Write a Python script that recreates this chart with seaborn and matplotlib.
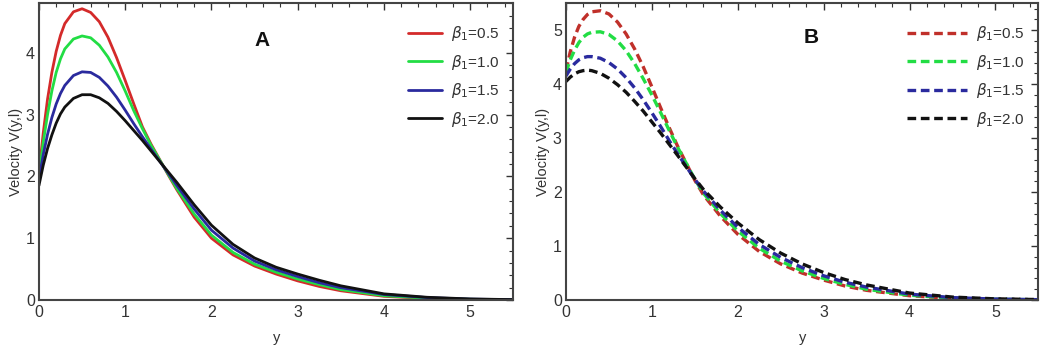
import numpy as np
import pandas as pd
import seaborn as sns
import matplotlib.pyplot as plt
from matplotlib.ticker import MultipleLocator

# distance y, shared by all curves
y_vals = [0, 0.05, 0.1, 0.15, 0.2, 0.25, 0.3, 0.4, 0.5, 0.6, 0.7, 0.8, 0.9, 1.0,
          1.1, 1.2, 1.3, 1.5, 1.6, 1.8, 2.0, 2.25, 2.5, 2.75, 3.0, 3.25, 3.5,
          4.0, 4.5, 5.0, 5.5]

beta_labels = [r"$\beta_1$=0.5", r"$\beta_1$=1.0", r"$\beta_1$=1.5", r"$\beta_1$=2.0"]

# panel A (solid)
vel_a_05 = [2.05, 2.7, 3.25, 3.68, 4.02, 4.28, 4.47, 4.66, 4.71, 4.65, 4.5, 4.25,
            3.92, 3.55, 3.17, 2.8, 2.52, 2.02, 1.78, 1.34, 1.0, 0.73, 0.55, 0.42,
            0.31, 0.22, 0.15, 0.06, 0.025, 0.01, 0.004]
vel_a_10 = [2.0, 2.55, 3.0, 3.38, 3.68, 3.9, 4.06, 4.22, 4.27, 4.24, 4.12, 3.93,
            3.68, 3.38, 3.06, 2.77, 2.5, 2.03, 1.8, 1.39, 1.05, 0.77, 0.58, 0.45,
            0.34, 0.25, 0.17, 0.07, 0.03, 0.012, 0.005]
vel_a_15 = [1.95, 2.35, 2.68, 2.95, 3.17, 3.34, 3.47, 3.63, 3.69, 3.68, 3.6, 3.46,
            3.28, 3.07, 2.85, 2.64, 2.44, 2.05, 1.85, 1.47, 1.13, 0.84, 0.63, 0.49,
            0.38, 0.28, 0.2, 0.09, 0.04, 0.015, 0.006]
vel_a_20 = [1.85, 2.18, 2.45, 2.67, 2.86, 3.01, 3.12, 3.26, 3.32, 3.32, 3.27, 3.18,
            3.05, 2.9, 2.74, 2.58, 2.41, 2.07, 1.9, 1.54, 1.21, 0.9, 0.68, 0.53,
            0.42, 0.32, 0.23, 0.1, 0.045, 0.018, 0.007]

# panel B (dashed)
vel_b_05 = [4.25, 4.6, 4.87, 5.07, 5.2, 5.29, 5.34, 5.36, 5.3, 5.15, 4.93, 4.65,
            4.32, 3.95, 3.57, 3.2, 2.85, 2.22, 1.95, 1.55, 1.22, 0.9, 0.67, 0.5,
            0.37, 0.26, 0.18, 0.08, 0.03, 0.012, 0.005]
vel_b_10 = [4.22, 4.45, 4.63, 4.77, 4.87, 4.93, 4.96, 4.97, 4.92, 4.8, 4.62, 4.38,
            4.1, 3.8, 3.48, 3.15, 2.83, 2.24, 1.98, 1.6, 1.28, 0.96, 0.72, 0.54,
            0.4, 0.29, 0.2, 0.09, 0.035, 0.014, 0.006]
vel_b_15 = [4.15, 4.28, 4.38, 4.45, 4.49, 4.51, 4.51, 4.48, 4.4, 4.28, 4.12, 3.93,
            3.71, 3.47, 3.22, 2.96, 2.71, 2.24, 2.02, 1.66, 1.35, 1.03, 0.79, 0.6,
            0.45, 0.33, 0.24, 0.11, 0.045, 0.018, 0.007]
vel_b_20 = [4.05, 4.13, 4.19, 4.23, 4.25, 4.26, 4.25, 4.2, 4.11, 3.99, 3.85, 3.68,
            3.5, 3.3, 3.1, 2.89, 2.68, 2.25, 2.05, 1.72, 1.43, 1.12, 0.87, 0.67,
            0.51, 0.38, 0.28, 0.13, 0.055, 0.022, 0.009]

colors_a = ["#d42a2a", "#22dd44", "#2a2a9e", "#111111"]
colors_b = ["#c0302a", "#22dd44", "#2a2a9e", "#111111"]


def long_frame(series):
    rows = []
    for label, vals in zip(beta_labels, series):
        for y, v in zip(y_vals, vals):
            rows.append({"y": y, "V": v, "beta": label})
    return pd.DataFrame(rows)


sns.set_theme(style="white")
plt.rcParams["font.family"] = ["Liberation Sans", "DejaVu Sans"]
plt.rcParams["mathtext.fontset"] = "dejavusans"

fig = plt.figure(figsize=(10.52, 3.53), dpi=100)
ax_a = fig.add_axes([0.037, 0.150, 0.451, 0.841])
ax_b = fig.add_axes([0.538, 0.150, 0.449, 0.841])

panels = [
    (ax_a, long_frame([vel_a_05, vel_a_10, vel_a_15, vel_a_20]), colors_a, "-", 4.8, "A", 0.47, 0.875, 2.2),
    (ax_b, long_frame([vel_b_05, vel_b_10, vel_b_15, vel_b_20]), colors_b, "--", 5.5, "B", 0.52, 0.885, 3.9),
]

for ax, df, cols, ls, ytop, letter, lx, ly, hlen in panels:
    sns.lineplot(data=df, x="y", y="V", hue="beta", palette=cols, ax=ax,
                 linewidth=2.0 if ls == "-" else 2.4, linestyle=ls, legend=False,
                 sort=False)
    lines = ax.get_lines()
    if ls == "--":
        for ln in lines:
            ln.set_dashes((2.6, 1.4))
    ax.legend(lines, beta_labels, loc="upper right", frameon=False,
              fontsize=11, handlelength=hlen, labelspacing=0.62,
              handletextpad=0.6, bbox_to_anchor=(1.0, 0.975),
              labelcolor="#333333")
    ax.set_xlim(0, 5.5)
    ax.set_ylim(0, ytop)
    ax.xaxis.set_major_locator(MultipleLocator(1))
    ax.xaxis.set_minor_locator(MultipleLocator(0.2))
    ax.yaxis.set_major_locator(MultipleLocator(1))
    ax.yaxis.set_minor_locator(MultipleLocator(0.2))
    ax.tick_params(which="both", direction="in", top=True, right=True,
                   colors="#333333", labelsize=11.5)
    ax.tick_params(which="major", length=5, width=1.0)
    ax.tick_params(which="minor", length=3, width=0.8)
    ax.tick_params(axis="y", pad=3)
    for sp in ax.spines.values():
        sp.set_color("#444444")
        sp.set_linewidth(1.5)
    ax.set_xlabel("y", fontsize=10.5, color="#333333", labelpad=8)
    ax.set_ylabel("Velocity V(y,l)", fontsize=10.5, color="#333333", labelpad=2)
    ax.text(lx, ly, letter, transform=ax.transAxes, fontsize=15,
            fontweight="bold", ha="center", va="center", color="#111111")

fig.savefig("out.png", dpi=100)
